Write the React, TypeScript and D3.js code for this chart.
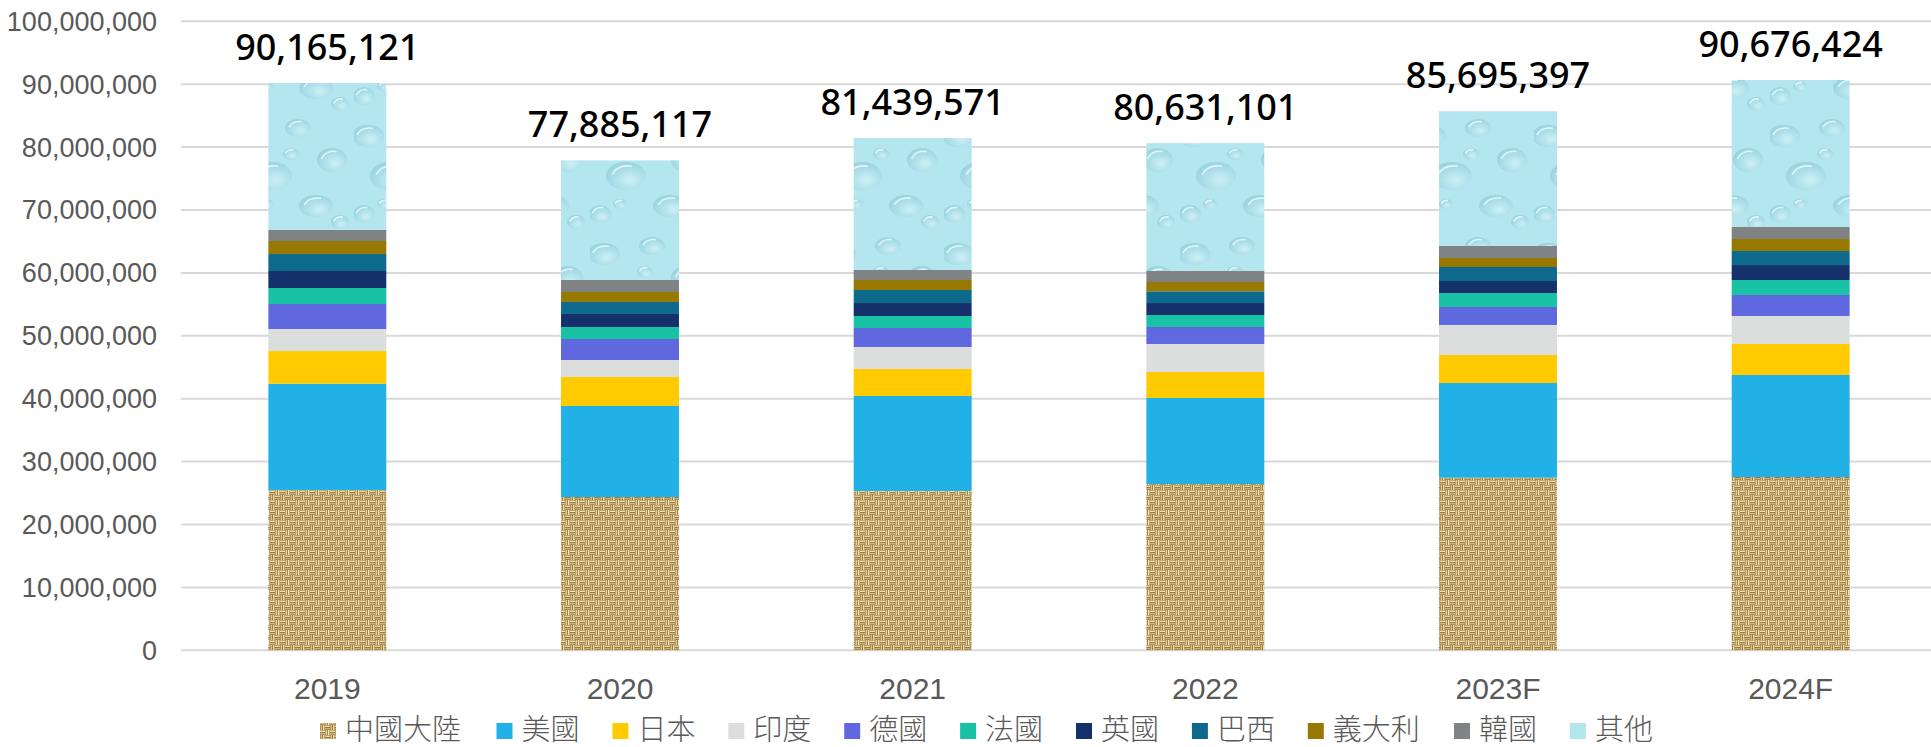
import React from "react";
import * as d3 from "d3";

const years = ["2019", "2020", "2021", "2022", "2023F", "2024F"];
const seriesNames = ["中國大陸", "美國", "日本", "印度", "德國", "法國", "英國", "巴西", "義大利", "韓國", "其他"];
const china = [25490000, 24370000, 25330000, 26440000, 27440000, 27550000];
const usa = [16900000, 14470000, 15100000, 13670000, 15060000, 16220000];
const japan = [5190000, 4610000, 4290000, 4140000, 4450000, 4930000];
const india = [3500000, 2700000, 3500000, 4450000, 4770000, 4450000];
const germany = [3980000, 3340000, 3020000, 2700000, 2860000, 3340000];
const france = [2540000, 1910000, 1910000, 1910000, 2220000, 2380000];
const uk = [2700000, 2070000, 2060000, 1900000, 1910000, 2380000];
const brazil = [2700000, 1900000, 2070000, 1860000, 2230000, 2230000];
const italy = [2070000, 1590000, 1590000, 1480000, 1430000, 1910000];
const korea = [1750000, 1910000, 1590000, 1750000, 1910000, 1910000];
const others = [23345121, 19015117, 20979571, 20331101, 21415397, 23376424];
const totals = [90165121, 77885117, 81439571, 80631101, 85695397, 90676424];
const yTicks = [0, 10000000, 20000000, 30000000, 40000000, 50000000, 60000000, 70000000, 80000000, 90000000, 100000000];

const seriesValues = [china, usa, japan, india, germany, france, uk, brazil, italy, korea, others];
const fills = [
  "url(#burlap)", "#21b1e6", "#ffcb00", "#dcdddd", "#6068df", "#19c1a5",
  "#15316c", "#0e6a8c", "#977800", "#808383", "url(#water)",
];

const W = 1931;
const H = 747;

export default function App() {
  const x = d3.scaleBand<string>().domain(years).range([181, 1937]).paddingInner(0.597).paddingOuter(0.2985);
  const y = d3.scaleLinear().domain([0, 100000000]).range([650.3, 21.3]);

  const rows = years.map((yr, i) => {
    const r: any = { year: yr };
    seriesNames.forEach((s, k) => (r[s] = seriesValues[k][i]));
    return r;
  });
  const stacked = d3.stack<any>().keys(seriesNames)(rows);
  const fmt = d3.format(",");

  // legend layout
  const charW = 30.3;
  let lx = 320;
  const legendItems = seriesNames.map((s, k) => {
    const item = { name: s, x: lx, fill: fills[k] };
    lx += 16 + 9 + s.length * charW + 30.3;
    return item;
  });

  // decorative texture shapes (not data)
  const drops = [
    [14, 18, 16, 11], [62, 10, 13, 9], [96, 42, 15, 12], [36, 58, 20, 14], [80, 88, 17, 11],
    [10, 96, 11, 9], [55, 36, 8, 6], [104, 104, 9, 7], [30, 86, 7, 5],
  ];
  const weave: [number, number, number, number, string][] = [
    [0, 0.4, 5, 1.8, "#f3dfa8"], [0, 2.8, 5, 1.8, "#d6b878"],
    [5.4, 0, 1.8, 5, "#e9d193"], [7.8, 0, 1.8, 5, "#f6e4b2"],
    [0.4, 5, 1.8, 5, "#dcc084"], [2.8, 5, 1.8, 5, "#f0dba4"],
    [5, 5.4, 5, 1.8, "#ecd49a"], [5, 7.8, 5, 1.8, "#cfb070"],
  ];

  return (
    <svg width={W} height={H} style={{ position: "absolute", left: 0, top: 0, background: "#fff" }}>
      <defs>
        <pattern id="burlap" patternUnits="userSpaceOnUse" width={10} height={10}>
          <rect width={10} height={10} fill="#6e5024" />
          {weave.map((r, i) => (
            <rect key={i} x={r[0]} y={r[1]} width={r[2]} height={r[3]} fill={r[4]} />
          ))}
        </pattern>
        <radialGradient id="dropGrad" cx="0.6" cy="0.65" r="0.7">
          <stop offset="0" stopColor="#d8f4f8" />
          <stop offset="0.55" stopColor="#a8dce6" />
          <stop offset="1" stopColor="#88c8d6" />
        </radialGradient>
        <pattern id="water" patternUnits="userSpaceOnUse" width={118} height={118}>
          <rect width={118} height={118} fill="#b4e6ef" />
          {drops.map((d, i) => (
            <g key={i}>
              <ellipse cx={d[0]} cy={d[1]} rx={d[2]} ry={d[3]} fill="url(#dropGrad)" opacity={0.7} />
              <path
                d={`M${d[0] - d[2] * 0.7},${d[1] - d[3] * 0.1} Q${d[0] - d[2] * 0.4},${d[1] - d[3] * 0.85} ${d[0] + d[2] * 0.3},${d[1] - d[3] * 0.7}`}
                stroke="#e8f9fb"
                strokeWidth={1.6}
                fill="none"
                opacity={0.9}
              />
            </g>
          ))}
        </pattern>
      </defs>

      {/* gridlines */}
      {yTicks.map((t) => (
        <line key={t} x1={181} x2={W} y1={y(t)} y2={y(t)} stroke="#d9d9d9" strokeWidth={2} />
      ))}

      {/* y tick labels */}
      {yTicks.map((t) => (
        <text
          key={"l" + t}
          x={157}
          y={y(t)}
          dy="0.35em"
          textAnchor="end"
          fontFamily="'Liberation Sans', Arial, sans-serif"
          fontSize={27}
          fill="#595959"
        >
          {fmt(t)}
        </text>
      ))}

      {/* bars */}
      {stacked.map((layer, k) => (
        <g key={layer.key} fill={fills[k]}>
          {layer.map((seg, i) => (
            <rect
              key={i}
              x={x(years[i])}
              width={x.bandwidth()}
              y={y(seg[1])}
              height={y(seg[0]) - y(seg[1])}
            />
          ))}
        </g>
      ))}

      {/* totals */}
      {totals.map((t, i) => (
        <text
          key={"t" + i}
          x={(x(years[i]) as number) + x.bandwidth() / 2}
          y={y(t) - 23}
          textAnchor="middle"
          fontFamily="'Noto Sans', 'Open Sans', sans-serif"
          fontWeight={500}
          fontSize={36}
          fill="#000"
        >
          {fmt(t)}
        </text>
      ))}

      {/* x labels */}
      {years.map((yr) => (
        <text
          key={"x" + yr}
          x={(x(yr) as number) + x.bandwidth() / 2}
          y={699}
          textAnchor="middle"
          fontFamily="'Liberation Sans', Arial, sans-serif"
          fontSize={30}
          fill="#595959"
        >
          {yr}
        </text>
      ))}

      {/* legend */}
      {legendItems.map((it) => (
        <g key={it.name}>
          <rect x={it.x} y={723} width={16} height={16} fill={it.fill} />
          <text
            x={it.x + 25}
            y={740}
            fontFamily="'Noto Sans CJK TC', 'Noto Sans CJK SC', sans-serif"
            fontWeight={300}
            fontSize={29}
            fill="#595959"
          >
            {it.name}
          </text>
        </g>
      ))}
    </svg>
  );
}
